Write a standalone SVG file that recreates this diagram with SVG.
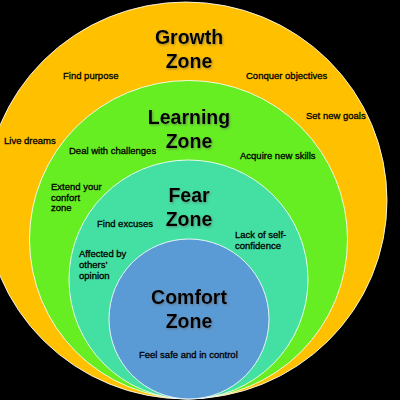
<svg xmlns="http://www.w3.org/2000/svg" width="400" height="400" viewBox="0 0 400 400">
  <defs>
    <filter id="sh" x="-10%" y="-10%" width="130%" height="140%">
      <feDropShadow dx="1" dy="1.2" stdDeviation="0.8" flood-color="#555" flood-opacity="0.55"/>
    </filter>
  </defs>
  <style>
    .zone { stroke: #ffffff; stroke-width: 1; stroke-opacity: 0.85; }
    .title { font-family: "Liberation Sans", Arial, sans-serif; font-weight: bold; font-size: 19.5px; fill: #000; text-anchor: middle; filter: url(#sh); }
    .lbl { font-family: "Liberation Sans", Arial, sans-serif; font-size: 9.5px; fill: #000; stroke: #000; stroke-width: 0.3; }
  </style>
  <rect x="0" y="0" width="400" height="400" fill="#000"/>

  <g id="growth-zone">
    <ellipse class="zone" cx="186" cy="200.5" rx="201" ry="198.5" fill="#FFC000"/>
    <text class="title" x="189" y="44">Growth</text>
    <text class="title" x="189" y="68">Zone</text>
    <text class="lbl" x="63" y="79">Find purpose</text>
    <text class="lbl" x="246" y="79">Conquer objectives</text>
    <text class="lbl" x="306" y="119">Set new goals</text>
    <text class="lbl" x="4" y="144">Live dreams</text>
  </g>

  <g id="learning-zone">
    <circle class="zone" cx="188.5" cy="239.5" r="159" fill="#66EE22"/>
    <text class="title" x="189" y="124">Learning</text>
    <text class="title" x="189" y="148">Zone</text>
    <text class="lbl" x="69" y="154">Deal with challenges</text>
    <text class="lbl" x="240" y="159">Acquire new skills</text>
    <text class="lbl" x="51" y="190">Extend your</text>
    <text class="lbl" x="51" y="200.5">confort</text>
    <text class="lbl" x="51" y="211">zone</text>
  </g>

  <g id="fear-zone">
    <circle class="zone" cx="188.5" cy="279.5" r="119.5" fill="#44DFA2"/>
    <text class="title" x="189" y="202">Fear</text>
    <text class="title" x="189" y="226">Zone</text>
    <text class="lbl" x="97" y="227">Find excuses</text>
    <text class="lbl" x="235" y="238">Lack of self-</text>
    <text class="lbl" x="235" y="249">confidence</text>
    <text class="lbl" x="79" y="257">Affected by</text>
    <text class="lbl" x="79" y="268">others’</text>
    <text class="lbl" x="79" y="279">opinion</text>
  </g>

  <g id="comfort-zone">
    <circle class="zone" cx="189" cy="319" r="80" fill="#5B9BD5"/>
    <text class="title" x="189" y="304">Comfort</text>
    <text class="title" x="189" y="328">Zone</text>
    <text class="lbl" x="139" y="358">Feel safe and in control</text>
  </g>
</svg>
